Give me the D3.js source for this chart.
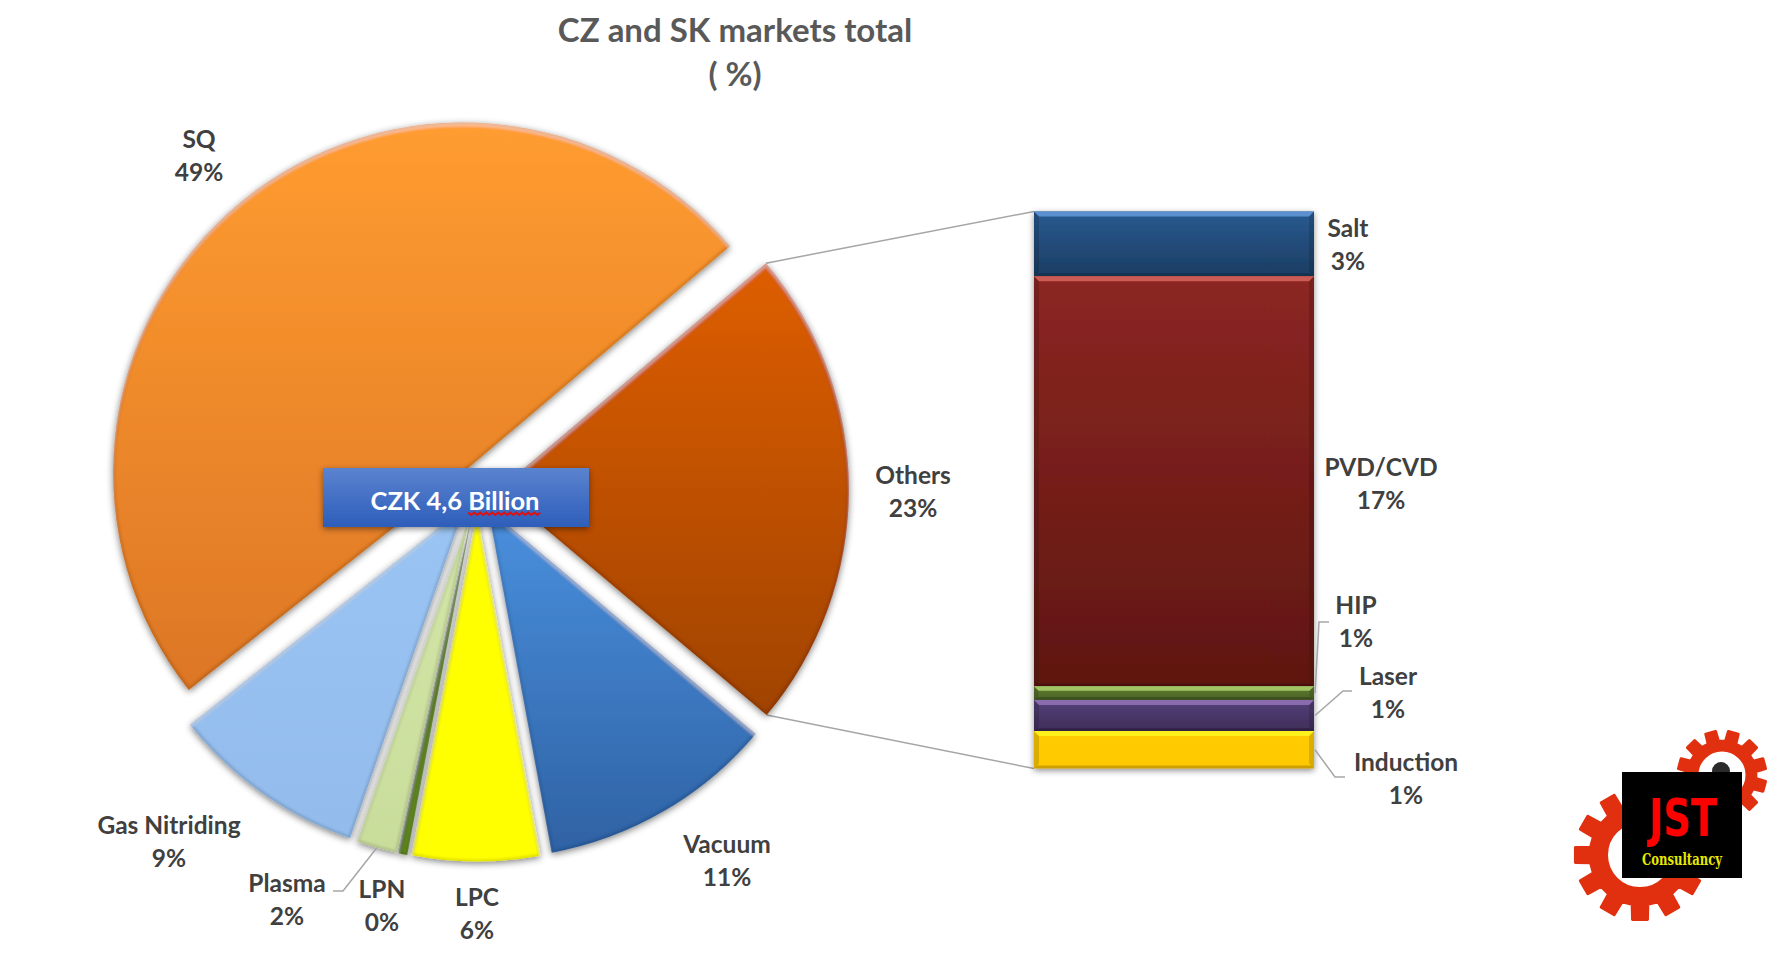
<!DOCTYPE html>
<html>
<head>
<meta charset="utf-8">
<script src="https://cdn.jsdelivr.net/npm/d3@7"></script>
<style>
  body { margin: 0; background: #fff; }
  text { font-family: Lato, "Open Sans", sans-serif; font-weight: 700; }
</style>
</head>
<body>
<svg id="chart"></svg>
<script>
// stacked column on the right, breaks down the "Others" slice (top to bottom)
const stackNames = ["Salt", "PVD/CVD", "HIP", "Laser", "Induction"];
const stackValues = [2.6, 16.45, 0.55, 1.25, 1.5];
const stackLabels = ["3%", "17%", "1%", "1%", "1%"];

// main pie, clockwise
const pieNames = ["SQ", "Others", "Vacuum", "LPC", "LPN", "Plasma", "Gas Nitriding"];
const pieValues = [49.5, d3.sum(stackValues), 10.95, 5.9, 0.4, 1.9, 9.05];
const pieLabels = ["49%", "23%", "11%", "6%", "0%", "2%", "9%"];

const titleLines = ["CZ and SK markets total", "( %)"];

// gradient colours [top, bottom]
const pieColors = {
  "SQ": ["#ff9c30", "#dd7626"],
  "Others": ["#de5e05", "#a04302"],
  "Vacuum": ["#4a90de", "#2f62a4"],
  "LPC": ["#ffff00", "#ffff00"],
  "LPN": ["#76a030", "#60881f"],
  "Plasma": ["#d3e6a8", "#c9dd9b"],
  "Gas Nitriding": ["#9ac4f3", "#93bcec"]
};
// [top, bottom, bevel strip]
const stackColors = {
  "Salt": ["#285a90", "#1c3d63", "#5a8fd0"],
  "PVD/CVD": ["#8c2623", "#5f1610", "#cc5a55"],
  "HIP": ["#5f7d30", "#4b6226", "#a2c464"],
  "Laser": ["#54407a", "#3f2d58", "#8a6cae"],
  "Induction": ["#ffcc00", "#ffc800", "#fff21a"]
};

// hand placed label centres (x, first baseline), same as in the source chart
const labelSpots = {
  "SQ": [199, 148], "Others": [913, 484], "Vacuum": [727, 853], "LPC": [477, 906],
  "LPN": [382, 898], "Plasma": [287, 892], "Gas Nitriding": [169, 834],
  "Salt": [1348, 237], "PVD/CVD": [1381, 476], "HIP": [1356, 614], "Laser": [1388, 685], "Induction": [1406, 771]
};
// elbow leaders: [x, y] of the bend and the end, start comes from the mark
const elbows = {
  "Plasma": [[343, 891], [333, 891]],
  "HIP": [[1319, 622], [1329, 622]],
  "Laser": [[1343, 691], [1352, 691]],
  "Induction": [[1335, 777], [1345, 777]]
};

class PieOfBar {

  constructor(_config) {
    this.config = {
      parentElement: _config.parentElement,
      containerWidth: _config.containerWidth || 1791,
      containerHeight: _config.containerHeight || 980,
      cx: 477, cy: 489.5, radius: 350, explode: 22,
      startDeg: 231.6,
      barX0: 1034, barX1: 1314, barTop: 211.5, barBottom: 768.5
    };
    this.initVis();
  }

  initVis() {
    let vis = this;
    vis.svg = d3.select(vis.config.parentElement)
        .attr('width', vis.config.containerWidth)
        .attr('height', vis.config.containerHeight)
        .style('display', 'block');
    vis.defs = vis.svg.append('defs');
    vis.addFilters();

    vis.start = vis.config.startDeg * Math.PI / 180;
    vis.pie = d3.pie().sort(null).startAngle(vis.start).endAngle(vis.start + 2 * Math.PI);
    vis.arc = d3.arc().innerRadius(0).outerRadius(vis.config.radius);
    vis.y = d3.scaleLinear()
        .domain([0, d3.sum(stackValues)])
        .range([vis.config.barTop, vis.config.barBottom]);

    vis.updateVis();
  }

  addFilters() {
    let vis = this;
    const f = vis.defs.append('filter').attr('id', 'bevel')
        .attr('x', '-15%').attr('y', '-15%').attr('width', '130%').attr('height', '130%');
    f.append('feGaussianBlur').attr('in', 'SourceAlpha').attr('stdDeviation', 3.5).attr('result', 'b');
    f.append('feOffset').attr('in', 'b').attr('dy', 2).attr('result', 'bo');
    f.append('feFlood').attr('flood-color', '#000').attr('flood-opacity', 0.5).attr('result', 'sc');
    f.append('feComposite').attr('in', 'sc').attr('in2', 'bo').attr('operator', 'in').attr('result', 'shadow');
    // dark rim all round
    f.append('feMorphology').attr('in', 'SourceAlpha').attr('operator', 'erode').attr('radius', 2).attr('result', 'er');
    f.append('feGaussianBlur').attr('in', 'er').attr('stdDeviation', 0.8).attr('result', 'erb');
    f.append('feComposite').attr('in', 'SourceAlpha').attr('in2', 'erb').attr('operator', 'out').attr('result', 'rimA');
    f.append('feFlood').attr('flood-color', '#000').attr('flood-opacity', 0.24).attr('result', 'rc');
    f.append('feComposite').attr('in', 'rc').attr('in2', 'rimA').attr('operator', 'in').attr('result', 'rim');
    // light top edge, soft
    f.append('feOffset').attr('in', 'SourceAlpha').attr('dy', 4).attr('result', 'o1');
    f.append('feGaussianBlur').attr('in', 'o1').attr('stdDeviation', 1).attr('result', 'o1b');
    f.append('feComposite').attr('in', 'SourceAlpha').attr('in2', 'o1b').attr('operator', 'out').attr('result', 'topA');
    f.append('feFlood').attr('flood-color', '#fff').attr('flood-opacity', 0.28).attr('result', 'tc');
    f.append('feComposite').attr('in', 'tc').attr('in2', 'topA').attr('operator', 'in').attr('result', 'top');
    const m = f.append('feMerge');
    ['shadow', 'SourceGraphic', 'rim', 'top'].forEach(n => m.append('feMergeNode').attr('in', n));

    const s = vis.defs.append('filter').attr('id', 'shadow')
        .attr('x', '-10%').attr('y', '-10%').attr('width', '120%').attr('height', '130%');
    s.append('feDropShadow').attr('dx', 0).attr('dy', 2).attr('stdDeviation', 3)
        .attr('flood-color', '#000').attr('flood-opacity', 0.45);
  }

  gradient(id, c0, c1) {
    const g = this.defs.append('linearGradient').attr('id', id)
        .attr('x1', 0).attr('y1', 0).attr('x2', 0).attr('y2', 1);
    g.append('stop').attr('offset', 0).attr('stop-color', c0);
    g.append('stop').attr('offset', 1).attr('stop-color', c1);
    return `url(#${id})`;
  }

  updateVis() {
    let vis = this;
    vis.slices = vis.pie(pieValues).map((d, i) => {
      const mid = (d.startAngle + d.endAngle) / 2;
      const off = d3.pointRadial(mid, vis.config.explode);
      return { ...d, name: pieNames[i], label: pieLabels[i], mid,
        ox: vis.config.cx + off[0], oy: vis.config.cy + off[1] };
    });
    let acc = 0;
    vis.segments = stackNames.map((name, i) => {
      const seg = { name, label: stackLabels[i], y0: vis.y(acc), y1: vis.y(acc + stackValues[i]) };
      acc += stackValues[i];
      return seg;
    });
    vis.renderVis();
  }

  renderVis() {
    let vis = this;
    const cfg = vis.config;
    const line = d3.line();

    // series lines from the Others slice to the column
    const oth = vis.slices.find(d => d.name === 'Others');
    const a = d3.pointRadial(oth.startAngle, cfg.radius);
    const b = d3.pointRadial(oth.endAngle, cfg.radius);
    vis.svg.append('path').attr('fill', 'none').attr('stroke', '#a6a6a6').attr('stroke-width', 1.5)
        .attr('d', line([[oth.ox + a[0], oth.oy + a[1]], [cfg.barX0, cfg.barTop]]));
    vis.svg.append('path').attr('fill', 'none').attr('stroke', '#a6a6a6').attr('stroke-width', 1.5)
        .attr('d', line([[oth.ox + b[0], oth.oy + b[1]], [cfg.barX0, cfg.barBottom]]));

    // pie slices
    vis.svg.append('g').selectAll('path')
        .data(vis.slices)
        .join('path')
        .attr('transform', d => `translate(${d.ox},${d.oy})`)
        .attr('d', vis.arc)
        .attr('fill', (d, i) => vis.gradient('p' + i, pieColors[d.name][0], pieColors[d.name][1]))
        .attr('filter', 'url(#bevel)');

    // stacked column
    const seg = vis.svg.append('g').attr('filter', 'url(#shadow)')
        .selectAll('g').data(vis.segments).join('g');
    seg.append('rect')
        .attr('x', cfg.barX0).attr('width', cfg.barX1 - cfg.barX0)
        .attr('y', d => d.y0).attr('height', d => d.y1 - d.y0)
        .attr('fill', (d, i) => vis.gradient('s' + i, stackColors[d.name][0], stackColors[d.name][1]));
    const bevel = d => Math.min(5, (d.y1 - d.y0) / 3);
    // mitred sides
    seg.append('path')
        .attr('fill', '#000').attr('fill-opacity', 0.14)
        .attr('d', d => {
          const h = bevel(d);
          return line([[cfg.barX0, d.y0], [cfg.barX0 + h, d.y0 + h], [cfg.barX0 + h, d.y1 - h], [cfg.barX0, d.y1]]) + 'Z'
            + line([[cfg.barX1, d.y0], [cfg.barX1 - h, d.y0 + h], [cfg.barX1 - h, d.y1 - h], [cfg.barX1, d.y1]]) + 'Z';
        });
    // light strip on top of each block
    seg.append('path')
        .attr('fill', d => stackColors[d.name][2])
        .attr('d', d => {
          const h = bevel(d);
          return line([[cfg.barX0, d.y0], [cfg.barX1, d.y0], [cfg.barX1 - h, d.y0 + h], [cfg.barX0 + h, d.y0 + h]]) + 'Z';
        });
    // dark strip on the bottom
    seg.append('path')
        .attr('fill', '#000').attr('fill-opacity', 0.2)
        .attr('d', d => {
          const h = Math.min(3, bevel(d));
          return line([[cfg.barX0, d.y1], [cfg.barX1, d.y1], [cfg.barX1 - h, d.y1 - h], [cfg.barX0 + h, d.y1 - h]]) + 'Z';
        });

    // elbow leaders
    const leaders = [];
    const pl = vis.slices.find(d => d.name === 'Plasma');
    const pp = d3.pointRadial(pl.mid, cfg.radius);
    leaders.push([[pl.ox + pp[0], pl.oy + pp[1]], ...elbows.Plasma]);
    vis.segments.filter(d => elbows[d.name]).forEach(d => {
      leaders.push([[cfg.barX1 + 1, (d.y0 + d.y1) / 2], ...elbows[d.name]]);
    });
    vis.svg.append('g').selectAll('path').data(leaders).join('path')
        .attr('fill', 'none').attr('stroke', '#a6a6a6').attr('stroke-width', 1.5)
        .attr('d', line);

    // data labels
    const labelled = vis.slices.concat(vis.segments);
    const lab = vis.svg.append('g').selectAll('text').data(labelled).join('text')
        .attr('text-anchor', 'middle').attr('fill', '#404040').attr('font-size', 24.5);
    lab.append('tspan').attr('x', d => labelSpots[d.name][0]).attr('y', d => labelSpots[d.name][1]).text(d => d.name);
    lab.append('tspan').attr('x', d => labelSpots[d.name][0]).attr('y', d => labelSpots[d.name][1] + 32.5).text(d => d.label);

    // title
    vis.svg.append('g').selectAll('text').data(titleLines).join('text')
        .attr('x', 735).attr('y', (d, i) => 42 + i * 44)
        .attr('text-anchor', 'middle').attr('fill', '#595959').attr('font-size', 33)
        .text(d => d);

    vis.renderBadge();
    vis.renderLogo();
  }

  renderBadge() {
    let vis = this;
    vis.svg.append('rect')
        .attr('x', 323).attr('y', 468).attr('width', 266).attr('height', 59)
        .attr('fill', vis.gradient('badge', '#5b83cf', '#2d5eba'))
        .attr('filter', 'url(#shadow)');
    const t = vis.svg.append('text')
        .attr('x', 455).attr('y', 510).attr('text-anchor', 'middle')
        .attr('fill', '#fff').attr('font-size', 25.5);
    t.append('tspan').text('CZK 4,6 ');
    t.append('tspan').text('Billion');
    // spell-check squiggle under the last word
    const node = t.node();
    const len = node.getComputedTextLength();
    const wordLen = t.selectAll('tspan').nodes()[1].getComputedTextLength();
    const x1 = 455 + len / 2 + 3, x0 = x1 - wordLen - 3;
    const pts = d3.range(0, Math.floor((x1 - x0) / 3) + 1).map(i => [x0 + i * 3, 512.5 + (i % 2 ? 2.5 : 0)]);
    vis.svg.append('path').attr('d', d3.line()(pts)).attr('fill', 'none').attr('stroke', '#e01010').attr('stroke-width', 2);
  }

  gearPath(n, outer, root, hole, rot) {
    const pts = [];
    const step = 2 * Math.PI / n;
    d3.range(n).forEach(i => {
      const c = rot + i * step;
      pts.push(d3.pointRadial(c - step * 0.3, root));
      pts.push(d3.pointRadial(c - step * 0.22, outer));
      pts.push(d3.pointRadial(c + step * 0.22, outer));
      pts.push(d3.pointRadial(c + step * 0.3, root));
    });
    const ring = d3.line()(pts) + 'Z';
    return ring + `M${hole},0A${hole},${hole} 0 1,0 ${-hole},0A${hole},${hole} 0 1,0 ${hole},0Z`;
  }

  renderLogo() {
    let vis = this;
    const g = vis.svg.append('g');
    const gears = [
      { x: 1640, y: 855, outer: 65, root: 50, hole: 33.5, rot: 0 },
      { x: 1722, y: 775, outer: 44, root: 34, hole: 25, rot: Math.PI / 12 }
    ];
    g.selectAll('path').data(gears).join('path')
        .attr('transform', d => `translate(${d.x},${d.y})`)
        .attr('d', d => vis.gearPath(12, d.outer, d.root, d.hole, d.rot))
        .attr('fill', '#e1300f').attr('fill-rule', 'evenodd')
        .attr('stroke', '#e1300f').attr('stroke-width', 3).attr('stroke-linejoin', 'round');
    g.append('circle').attr('cx', 1721).attr('cy', 771).attr('r', 9).attr('fill', '#2b2b2b');
    g.append('rect').attr('x', 1622).attr('y', 772).attr('width', 120).attr('height', 106).attr('fill', '#000');
    g.append('text').attr('x', 1683).attr('y', 836).attr('text-anchor', 'middle')
        .attr('fill', '#ff0000').attr('font-size', 52)
        .style('font-family', '"DejaVu Sans Condensed", "DejaVu Sans"')
        .attr('textLength', 68).attr('lengthAdjust', 'spacingAndGlyphs').text('JST');
    g.append('text').attr('x', 1682).attr('y', 865).attr('text-anchor', 'middle')
        .attr('fill', '#e8e800').attr('font-size', 17)
        .style('font-family', '"DejaVu Serif Condensed", "DejaVu Serif"')
        .attr('textLength', 80).attr('lengthAdjust', 'spacingAndGlyphs').text('Consultancy');
  }
}

new PieOfBar({ parentElement: '#chart' });
</script>
</body>
</html>
